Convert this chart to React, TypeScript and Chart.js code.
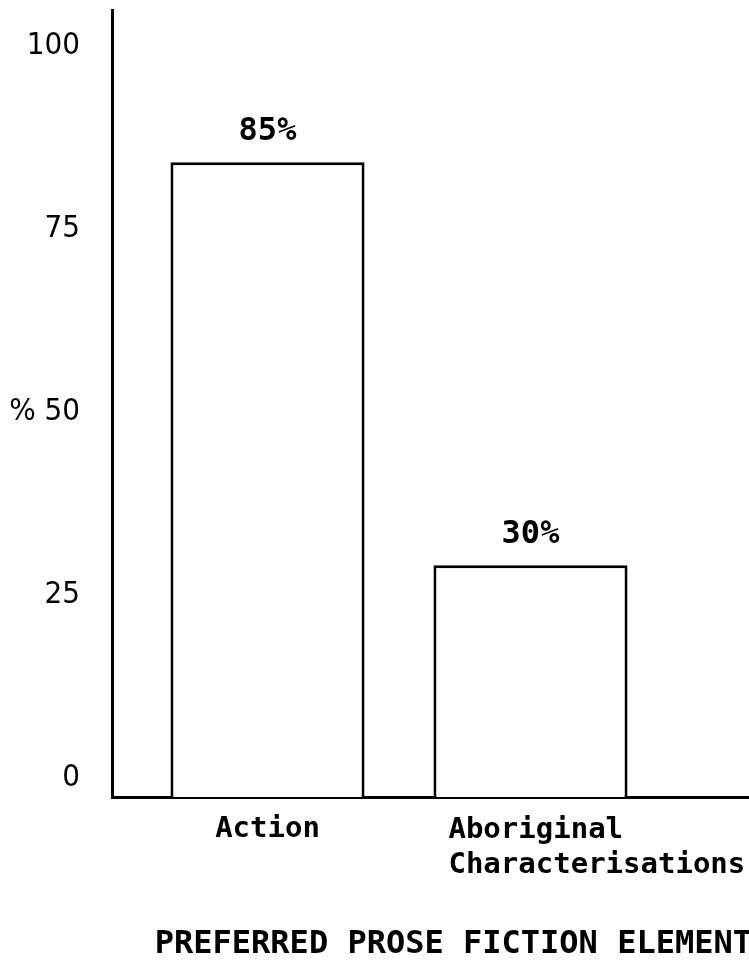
import React, { useEffect, useRef } from "react";
import { Chart, registerables } from "chart.js";

Chart.register(...registerables);

const categories: string[] = ["Action", "Aboriginal\nCharacterisations"];
const values: number[] = [85, 30];
const valueLabels: string[] = ["85%", "30%"];
const yTickValues: number[] = [0, 25, 50, 75, 100];
const yTickLabels: string[] = ["0", "25", "% 50", "75", "100"];
const xTitle = "PREFERRED PROSE FICTION ELEMENTS";

const Y_MIN = -1.64;
const Y_MAX = 105.8;

const MONO = '"DejaVu Sans Mono", "Liberation Mono", monospace';
const NARROW = '"Liberation Sans Narrow", "DejaVu Sans Condensed", "Liberation Sans", sans-serif';

const labelsPlugin = {
  id: "barLabels",
  afterDraw(chart: any) {
    const ctx = chart.ctx;
    const meta = chart.getDatasetMeta(0);
    const area = chart.chartArea;
    ctx.save();
    ctx.fillStyle = "#000";
    // value labels above bars
    ctx.font = `bold 32px ${MONO}`;
    ctx.textAlign = "center";
    ctx.textBaseline = "alphabetic";
    meta.data.forEach((bar: any, i: number) => {
      ctx.fillText(valueLabels[i], bar.x, bar.y - 22);
    });
    // category labels under axis
    ctx.font = `bold 29px ${MONO}`;
    meta.data.forEach((bar: any, i: number) => {
      const lines = categories[i].split("\n");
      if (lines.length === 1) {
        ctx.textAlign = "center";
        ctx.fillText(lines[0], bar.x, area.bottom + 40);
      } else {
        ctx.textAlign = "left";
        const left = bar.x - bar.width / 2 + 15;
        lines.forEach((ln: string, j: number) => {
          ctx.fillText(ln, left, area.bottom + 41 + j * 35);
        });
      }
    });
    ctx.restore();
  },
};

export default function App() {
  const canvasRef = useRef<HTMLCanvasElement | null>(null);

  useEffect(() => {
    if (!canvasRef.current) return;
    const chart = new Chart(canvasRef.current, {
      type: "bar",
      data: {
        datasets: [
          {
            data: values.map((v, i) => ({ x: i + 1, y: v })),
            backgroundColor: "#ffffff",
            borderColor: "#000000",
            borderWidth: 3,
            base: Y_MIN,
            barPercentage: 0.82,
            categoryPercentage: 0.9,
          } as any,
        ],
      },
      options: {
        responsive: false,
        animation: false,
        layout: { autoPadding: false, padding: { top: 10, right: 16, left: 0, bottom: 0 } },
        plugins: {
          legend: { display: false },
          tooltip: { enabled: false },
        },
        scales: {
          x: {
            type: "linear",
            offset: false,
            min: 0.4087,
            max: 3.078,
            afterBuildTicks: (scale: any) => {
              scale.ticks = values.map((_, i) => ({ value: i + 1 }));
            },
            afterFit: (scale: any) => {
              scale.height = 167;
              scale.paddingLeft = 0;
              scale.paddingRight = 0;
            },
            grid: { display: false, drawTicks: false, tickLength: 0, offset: false },
            border: { display: true, color: "#000", width: 3 },
            ticks: { display: false },
            title: {
              display: true,
              text: xTitle,
              color: "#000",
              font: { family: MONO, size: 32, weight: "bold" },
              padding: { top: 0, bottom: 0 },
            },
          },
          y: {
            type: "linear",
            min: Y_MIN,
            max: Y_MAX,
            afterBuildTicks: (scale: any) => {
              scale.ticks = yTickValues.map((v) => ({ value: v }));
            },
            afterFit: (scale: any) => {
              scale.width = 112;
              scale.paddingTop = 0;
              scale.paddingBottom = 0;
            },
            grid: { display: false, drawTicks: false, tickLength: 0 },
            border: { display: true, color: "#000", width: 3 },
            ticks: {
              color: "#000",
              padding: 32,
              labelOffset: -7,
              font: { family: NARROW, size: 31 },
              callback: (_v: any, index: number) => yTickLabels[index],
            },
          },
        },
      } as any,
      plugins: [labelsPlugin],
    });
    return () => chart.destroy();
  }, []);

  return (
    <div
      style={{
        position: "absolute",
        left: 0,
        top: 0,
        width: 749,
        height: 964,
        overflow: "hidden",
        background: "#ffffff",
      }}
    >
      <canvas ref={canvasRef} width={830} height={964} style={{ display: "block" }} />
    </div>
  );
}
